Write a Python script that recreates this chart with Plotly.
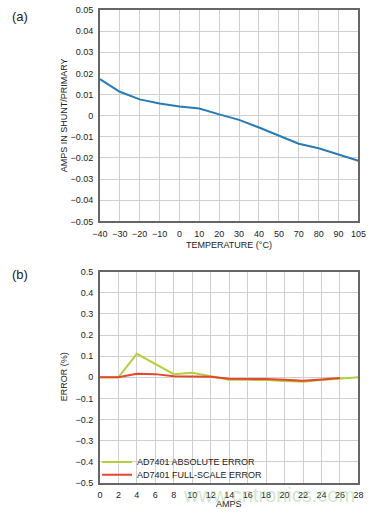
import plotly.graph_objects as go

# ---- data (a) ----
temp_labels = ["−40", "−30", "−20", "−10", "0", "10", "20", "30", "40", "50", "70", "80", "90", "105"]
shunt_amps = [0.0173, 0.0113, 0.0077, 0.0057, 0.0043, 0.0034, 0.0006, -0.0020, -0.0056, -0.0094, -0.0133, -0.0154, -0.0182, -0.0213]

# ---- data (b) ----
amps = [0, 2, 4, 6, 8, 10, 12, 14, 16, 18, 20, 22, 24, 26, 28]
abs_error = [0.0, 0.0, 0.111, 0.063, 0.015, 0.021, 0.006, -0.012, -0.012, -0.013, -0.018, -0.021, -0.013, -0.005, 0.0]
amps_fs = [0, 2, 4, 6, 8, 10, 12, 14, 16, 18, 20, 22, 24, 26]
fs_error = [0.0, 0.0, 0.017, 0.015, 0.005, 0.005, 0.002, -0.007, -0.007, -0.008, -0.012, -0.016, -0.010, -0.003]

W, H = 376, 516
FONT = "Liberation Sans, Arial, sans-serif"
GRID = "#cfcfcf"
FRAME = "#666666"
TXT = "#222222"

fig = go.Figure()
fig.add_trace(go.Scatter(x=temp_labels, y=shunt_amps, mode="lines",
                         line=dict(color="#2a7ab5", width=2), showlegend=False,
                         xaxis="x", yaxis="y"))
fig.add_trace(go.Scatter(x=amps, y=abs_error, mode="lines", name="AD7401 ABSOLUTE ERROR",
                         line=dict(color="#b5cf3c", width=2), xaxis="x2", yaxis="y2",
                         legend="legend"))
fig.add_trace(go.Scatter(x=amps_fs, y=fs_error, mode="lines", name="AD7401 FULL-SCALE ERROR",
                         line=dict(color="#e4472e", width=2), xaxis="x2", yaxis="y2",
                         legend="legend2"))

x0, x1 = 96 / W, 366 / W
axcommon = dict(showgrid=True, gridcolor=GRID, gridwidth=1, zeroline=False,
                showline=True, linecolor=FRAME, linewidth=1.5, mirror=True,
                ticks="", ticklabelstandoff=3, tickfont=dict(family=FONT, size=9, color=TXT))

leg = dict(xanchor="left", yanchor="middle", bgcolor="rgba(0,0,0,0)",
           font=dict(family=FONT, size=9, color=TXT), itemwidth=30)

fig.update_layout(
    width=W, height=H,
    margin=dict(l=0, r=0, t=0, b=0),
    paper_bgcolor="white", plot_bgcolor="white",
    font=dict(family=FONT, color=TXT),
    xaxis=dict(domain=[x0, x1], anchor="y", type="category", range=[0, len(temp_labels) - 1],
               **axcommon),
    yaxis=dict(domain=[1 - 220.7 / H, 1 - 5 / H], anchor="x", range=[-0.05, 0.05], dtick=0.01,
               tickformat=".2~f", **axcommon),
    xaxis2=dict(domain=[x0, x1], anchor="y2", range=[0, 28], dtick=2, **axcommon),
    yaxis2=dict(domain=[1 - 487.3 / H, 1 - 272 / H], anchor="x2", range=[-0.5, 0.5], dtick=0.1,
                tickformat=".1~f", **axcommon),
    legend=dict(x=93 / W, y=1 - 466 / H, **leg),
    legend2=dict(x=93 / W, y=1 - 479 / H, **leg),
)

ann = [
    dict(text="(a)", x=2 / W, y=1 - 12 / H, xanchor="left", yanchor="middle", font=dict(size=13)),
    dict(text="(b)", x=2 / W, y=1 - 275 / H, xanchor="left", yanchor="middle", font=dict(size=13)),
    dict(text="AMPS IN SHUNT/PRIMARY", x=58 / W, y=1 - 113 / H, textangle=-90,
         xanchor="center", yanchor="middle", font=dict(size=9)),
    dict(text="TEMPERATURE (°C)", x=231 / W, y=1 - 245 / H, xanchor="center", yanchor="middle",
         font=dict(size=9)),
    dict(text="ERROR (%)", x=58 / W, y=1 - 379 / H, textangle=-90,
         xanchor="center", yanchor="middle", font=dict(size=9)),
    dict(text="AMPS", x=231 / W, y=1 - 509 / H, xanchor="center", yanchor="middle",
         font=dict(size=9)),
    dict(text="www.cntronics.com", x=273 / W, y=1 - 500 / H, xanchor="center", yanchor="middle",
         font=dict(size=20, color="rgba(150,200,140,0.45)")),
]
for a in ann:
    a.update(xref="paper", yref="paper", showarrow=False)
    a["font"].setdefault("family", FONT)
    a["font"].setdefault("color", TXT)
fig.update_layout(annotations=ann)

fig.write_html("out.html", config={"displayModeBar": False},
               post_script="document.body.style.margin='0';document.body.style.overflow='hidden';")
